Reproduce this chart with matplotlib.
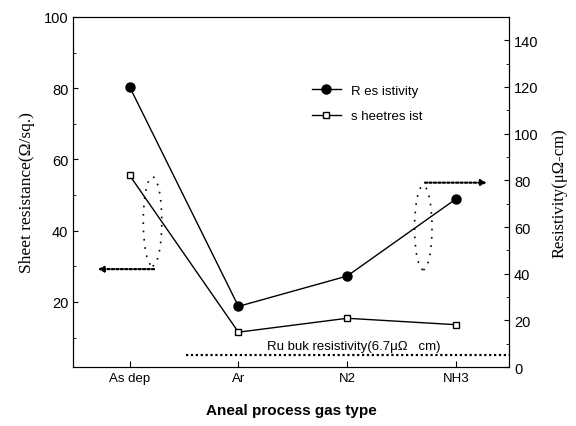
import numpy as np
import matplotlib
matplotlib.use("Agg")
import matplotlib.pyplot as plt
from matplotlib.patches import Ellipse
from matplotlib.ticker import MultipleLocator

plt.rcParams["font.family"] = ["Liberation Sans", "DejaVu Sans"]

# data
gases = ["As dep", "Ar", "N2", "NH3"]
resistivity = [120, 26, 39, 72]        # uOhm-cm, right axis
sheet_resist = [55.5, 11.5, 15.4, 13.6]  # Ohm/sq, left axis
ru_bulk = 5.0

x = np.arange(len(gases))

fig = plt.figure(figsize=(5.76, 4.27), dpi=100)
ax = fig.add_axes([0.127, 0.138, 0.757, 0.82])
ax2 = ax.twinx()

# sheet resistance
ax.plot(x, sheet_resist, color="black", lw=1, marker="s", ms=4.5,
        mfc="white", mec="black", label="s heetres ist")
ax.set_xlim(-0.52, 3.49)
ax.set_ylim(1.7, 100)
ax.set_xticks(x)
ax.set_xticklabels(gases, fontsize=9.5)
ax.set_yticks([20, 40, 60, 80, 100])
ax.yaxis.set_minor_locator(MultipleLocator(10))
ax.tick_params(axis="y", direction="in", labelsize=10.5)
ax.tick_params(axis="x", direction="in", length=4)
ax.tick_params(which="minor", direction="in", length=2)
ax.set_ylabel("Sheet resistance(\u03a9/sq.)", family="Liberation Serif", fontsize=12.5, labelpad=6)
ax.set_xlabel("Aneal process gas type", fontweight="bold", fontsize=11, labelpad=14)

# resistivity
ax2.plot(x, resistivity, color="black", lw=1, marker="o", ms=6.5, label="R es istivity")
ax2.set_ylim(0, 150)
ax2.set_yticks([0, 20, 40, 60, 80, 100, 120, 140])
ax2.yaxis.set_minor_locator(MultipleLocator(10))
ax2.tick_params(axis="y", direction="in", labelsize=10.5)
ax2.tick_params(which="minor", direction="in", length=2)
ax2.set_ylabel("Resistivity(\u03bc\u03a9-cm)", family="Liberation Serif", fontsize=12, labelpad=9)

# Ru bulk line
ax2.plot([0.52, 3.49], [ru_bulk, ru_bulk], color="black", lw=1.6, ls=(0, (1, 1.2)))
ax2.text(1.26, ru_bulk + 1.5, "Ru buk resistivity(6.7\u03bc\u03a9   cm)", fontsize=9.5, va="bottom")

# dotted ellipses and arrows
ax.add_patch(Ellipse((0.21, 42.6), 0.17, 25, fill=False, ls=(0, (1, 4)), lw=1.2, color="black"))
ax2.add_patch(Ellipse((2.70, 59.7), 0.16, 36, fill=False, ls=(0, (1, 4)), lw=1.2, color="black"))
ax.annotate("", xy=(-0.32, 29.2), xytext=(0.25, 29.2),
            arrowprops=dict(arrowstyle="-|>", ls=(0, (1, 1)), lw=1.6, color="black", mutation_scale=8))
ax2.annotate("", xy=(3.31, 79), xytext=(2.69, 79),
             arrowprops=dict(arrowstyle="-|>", ls=(0, (1, 1)), lw=1.6, color="black", mutation_scale=8))

# legend
h1, l1 = ax2.get_legend_handles_labels()
h0, l0 = ax.get_legend_handles_labels()
ax2.legend(h1[:1] + h0, l1[:1] + l0, loc="upper left", bbox_to_anchor=(0.52, 0.84),
           frameon=False, fontsize=9.5, handlelength=2.2, labelspacing=1.0)

plt.savefig("out.png", dpi=100)
